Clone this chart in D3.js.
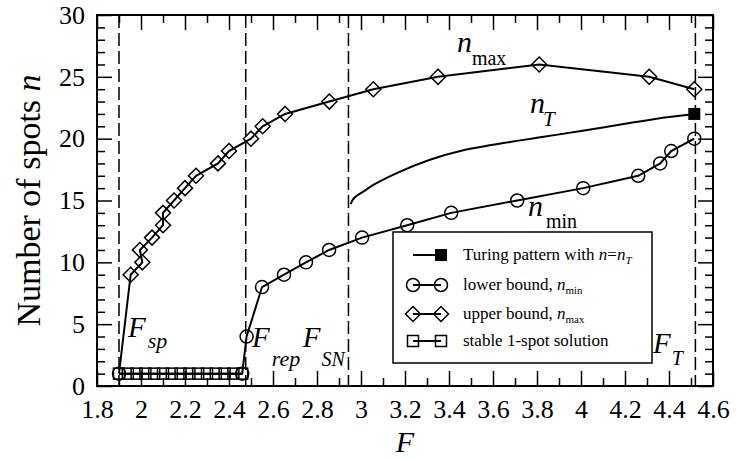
<!DOCTYPE html>
<html><head><meta charset="utf-8">
<script src="https://cdn.jsdelivr.net/npm/d3@7"></script>
<style>
body{margin:0;background:#fff}
svg{display:block}
</style>
</head><body>
<svg id="chart" width="737" height="459" font-family="Liberation Serif, Times New Roman, Times, DejaVu Serif, serif"></svg>
<script>
// ---- data ----
const X_TICKS = [1.8,2.0,2.2,2.4,2.6,2.8,3.0,3.2,3.4,3.6,3.8,4.0,4.2,4.4,4.6];
const X_MINOR = [1.9,2.1,2.3,2.5,2.7,2.9,3.1,3.3,3.5,3.7,3.9,4.1,4.3,4.5];
const Y_TICKS = [0,5,10,15,20,25,30];
const Y_MINOR = [1,2,3,4,6,7,8,9,11,12,13,14,16,17,18,19,21,22,23,24,26,27,28,29];

const oneSpotF = [1.90,1.94,1.98,2.02,2.06,2.10,2.14,2.18,2.22,2.26,2.30,2.34,2.38,2.42,2.46];
const oneSpotN = [1,1,1,1,1,1,1,1,1,1,1,1,1,1,1];

const minF = [1.90,2.46,2.48,2.55,2.65,2.75,2.855,3.005,3.21,3.41,3.71,4.01,4.26,4.36,4.41,4.515];
const minN = [1,1,4,8,9,10,11,12,13,14,15,16,17,18,19,20];

const maxF = [1.953,2.006,1.995,2.05,2.10,2.10,2.15,2.20,2.25,2.35,2.40,2.50,2.553,2.655,2.856,3.056,3.35,3.81,4.31,4.515];
const maxN = [9,10,11,12,13,14,15,16,17,18,19,20,21,22,23,24,25,26,25,24];

const turingF = [2.953,2.962,2.975,2.99,3.01,3.06,3.16,3.31,3.46,3.6,3.8,4.0,4.2,4.4,4.515];
const turingN = [14.7,15.05,15.3,15.5,15.72,16.3,17.2,18.28,19.05,19.5,20.07,20.62,21.2,21.75,22.0];

const critF = [1.90,2.476,2.943,4.52];
const critName = ["sp","rep","SN","T"];

// ---- layout ----
const W = 737, H = 459;
const M = {left:97, top:15, right:24, bottom:73};
const iw = W - M.left - M.right, ih = H - M.top - M.bottom;
const FONT = "Liberation Serif, Times New Roman, Times, DejaVu Serif, serif";

const svg = d3.select('#chart');
const g = svg.append('g').attr('transform', `translate(${M.left},${M.top})`);

const x = d3.scaleLinear().domain([1.8,4.6]).range([0,iw]);
const y = d3.scaleLinear().domain([0,30]).range([ih,0]);

// axes
function styleAxis(sel){
  sel.attr('font-family',FONT);
  sel.select('.domain').remove();
  sel.selectAll('line').attr('stroke','#000').attr('stroke-width',1.5);
}
g.append('g').attr('transform',`translate(0,${ih})`)
  .call(d3.axisBottom(x).tickValues(X_TICKS).tickSize(-15).tickPadding(13.5).tickFormat(d3.format('')))
  .call(styleAxis)
  .selectAll('text').attr('font-size',26).attr('fill','#000');
g.append('g').attr('transform',`translate(0,${ih})`)
  .call(d3.axisBottom(x).tickValues(X_MINOR).tickSize(-8).tickFormat(''))
  .call(styleAxis);
g.append('g').call(d3.axisTop(x).tickValues(X_TICKS).tickSize(-15).tickFormat('')).call(styleAxis);
g.append('g').call(d3.axisTop(x).tickValues(X_MINOR).tickSize(-8).tickFormat('')).call(styleAxis);

g.append('g')
  .call(d3.axisLeft(y).tickValues(Y_TICKS).tickSize(-15).tickPadding(12).tickFormat(d3.format('')))
  .call(styleAxis)
  .selectAll('text').attr('font-size',26).attr('fill','#000');
g.append('g').call(d3.axisLeft(y).tickValues(Y_MINOR).tickSize(-8).tickFormat('')).call(styleAxis);
g.append('g').attr('transform',`translate(${iw},0)`).call(d3.axisRight(y).tickValues(Y_TICKS).tickSize(-15).tickFormat('')).call(styleAxis);
g.append('g').attr('transform',`translate(${iw},0)`).call(d3.axisRight(y).tickValues(Y_MINOR).tickSize(-8).tickFormat('')).call(styleAxis);

// frame
g.append('rect').attr('width',iw).attr('height',ih).attr('fill','none').attr('stroke','#000').attr('stroke-width',2);

// dashed critical lines
g.selectAll('.crit').data(critF).join('line')
  .attr('x1',d=>x(d)).attr('x2',d=>x(d)).attr('y1',0).attr('y2',ih)
  .attr('stroke','#000').attr('stroke-width',1.5).attr('stroke-dasharray','13,5');

const line = d3.line().x(d=>x(d[0])).y(d=>y(d[1]));
const zip = (a,b)=>a.map((v,i)=>[v,b[i]]);

const oneSpot = zip(oneSpotF, oneSpotN);
const minPts = zip(minF, minN);
const maxPts = zip(maxF, maxN);
const turPts = zip(turingF, turingN);

// lines
g.append('path').datum(oneSpot).attr('d',line).attr('fill','none').attr('stroke','#000').attr('stroke-width',2);
g.append('path').datum(minPts).attr('d',line).attr('fill','none').attr('stroke','#000').attr('stroke-width',2);
g.append('path').datum([minPts[0]].concat(maxPts)).attr('d',line).attr('fill','none').attr('stroke','#000').attr('stroke-width',2);
g.append('path').datum(turPts).attr('d',d3.line().x(d=>x(d[0])).y(d=>y(d[1])).curve(d3.curveMonotoneX)).attr('fill','none').attr('stroke','#000').attr('stroke-width',2);

// markers
const MS = 1.5;
g.selectAll('.sq').data(oneSpot).join('rect')
  .attr('x',d=>x(d[0])-5.5).attr('y',d=>y(d[1])-5.5).attr('width',11).attr('height',11)
  .attr('fill','none').attr('stroke','#000').attr('stroke-width',MS);
g.selectAll('.ci').data(minPts).join('circle')
  .attr('cx',d=>x(d[0])).attr('cy',d=>y(d[1])).attr('r',6.5)
  .attr('fill','none').attr('stroke','#000').attr('stroke-width',MS);
const dia = r=>`M0,${-r}L${r},0L0,${r}L${-r},0Z`;
g.selectAll('.di').data(maxPts).join('path')
  .attr('transform',d=>`translate(${x(d[0])},${y(d[1])})`).attr('d',dia(7.5))
  .attr('fill','none').attr('stroke','#000').attr('stroke-width',MS);
const tEnd = turPts[turPts.length-1];
g.append('rect').attr('x',x(tEnd[0])-6).attr('y',y(tEnd[1])-6).attr('width',12).attr('height',12).attr('fill','#000');

// annotations
function sublabel(F, n, main, sub, mainSize, subSize, subDx, subDy, italicSub){
  const t = g.append('text').attr('x',x(F)).attr('y',y(n)).attr('font-family',FONT);
  t.append('tspan').attr('font-size',mainSize).attr('font-style','italic').text(main);
  t.append('tspan').attr('font-size',subSize).attr('dx',subDx).attr('dy',subDy)
    .attr('font-style', italicSub ? 'italic' : 'normal').text(sub);
}
sublabel(3.436, 27.0, 'n', 'max', 30, 20, 0, 13, false);
sublabel(3.768, 22.07, 'n', 'T', 30, 21, -2, 13, true);
sublabel(3.759, 13.75, 'n', 'min', 30, 20, 3, 12, false);
sublabel(1.941, 3.96, 'F', critName[0], 29, 22, 2, 11, true);
sublabel(2.505, 3.15, 'F', critName[1], 29, 22, 2, 19, true);
sublabel(2.735, 3.15, 'F', critName[2], 29, 20, 1, 19, true);
sublabel(4.327, 2.67, 'F', critName[3], 29, 20, 1, 12, true);

// axis titles
svg.append('text').attr('x', M.left + iw/2).attr('y', 452).attr('text-anchor','middle').attr('font-family',FONT)
  .attr('font-size',30).attr('font-style','italic').text('F');
const yt = svg.append('text').attr('transform',`translate(40,${M.top+ih/2}) rotate(-90)`).attr('text-anchor','middle').attr('font-size',34).attr('font-family',FONT);
yt.append('tspan').text('Number of spots ');
yt.append('tspan').attr('font-style','italic').text('n');

// legend
const L = {x:393, y:232, w:259, h:131};
const lg = svg.append('g').attr('font-family',FONT);
lg.append('rect').attr('x',L.x).attr('y',L.y).attr('width',L.w).attr('height',L.h)
  .attr('fill','#fff').attr('stroke','#000').attr('stroke-width',1.5);
const rows = [255,285,314,341];
const mx1 = 413, mx2 = 441, tx = 463;
rows.forEach(r=>{
  lg.append('line').attr('x1',mx1).attr('x2',mx2).attr('y1',r).attr('y2',r).attr('stroke','#000').attr('stroke-width',2);
});
lg.append('rect').attr('x',mx2-6).attr('y',rows[0]-6).attr('width',12).attr('height',12).attr('fill','#000');
[mx1,mx2].forEach(mx=>{
  lg.append('circle').attr('cx',mx).attr('cy',rows[1]).attr('r',6.5).attr('fill','none').attr('stroke','#000').attr('stroke-width',MS);
  lg.append('path').attr('transform',`translate(${mx},${rows[2]})`).attr('d',dia(7.5)).attr('fill','none').attr('stroke','#000').attr('stroke-width',MS);
  lg.append('rect').attr('x',mx-5.5).attr('y',rows[3]-5.5).attr('width',11).attr('height',11).attr('fill','none').attr('stroke','#000').attr('stroke-width',MS);
});
const LF = 17;
let t0 = lg.append('text').attr('x',tx).attr('y',rows[0]+5).attr('font-size',LF);
t0.append('tspan').text('Turing pattern with ');
t0.append('tspan').attr('font-style','italic').text('n');
t0.append('tspan').text('=');
t0.append('tspan').attr('font-style','italic').text('n');
t0.append('tspan').attr('font-style','italic').attr('font-size',11).attr('dy',4).text('T');
let t1 = lg.append('text').attr('x',tx).attr('y',rows[1]+5).attr('font-size',LF);
t1.append('tspan').text('lower bound, ');
t1.append('tspan').attr('font-style','italic').text('n');
t1.append('tspan').attr('font-size',11).attr('dy',4).text('min');
let t2 = lg.append('text').attr('x',tx).attr('y',rows[2]+5).attr('font-size',LF);
t2.append('tspan').text('upper bound, ');
t2.append('tspan').attr('font-style','italic').text('n');
t2.append('tspan').attr('font-size',11).attr('dy',4).text('max');
lg.append('text').attr('x',tx).attr('y',rows[3]+5).attr('font-size',LF).text('stable 1-spot solution');
</script>
</body></html>
